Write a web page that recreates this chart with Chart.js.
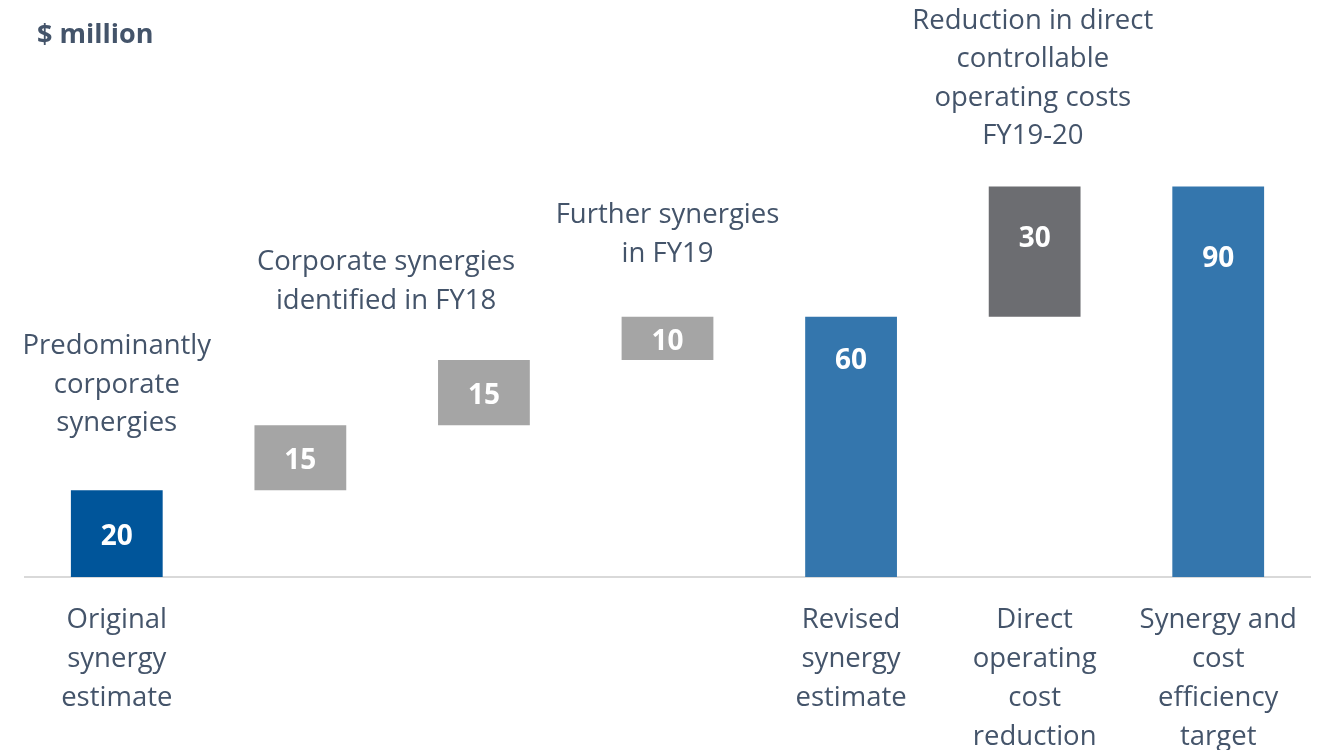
<!DOCTYPE html>
<html>
<head>
<meta charset="utf-8">
<script src="https://cdn.jsdelivr.net/npm/chart.js@4"></script>
<style>
  html, body { margin: 0; padding: 0; background: #fff; }
  #wrap { width: 1324px; height: 750px; }
</style>
</head>
<body>
<div id="wrap"><canvas id="synergyChart"></canvas></div>
<script>
// waterfall values ($ million)
var categories = [
  ['Original', 'synergy', 'estimate'],
  '',
  '',
  '',
  ['Revised', 'synergy', 'estimate'],
  ['Direct', 'operating', 'cost', 'reduction'],
  ['Synergy and', 'cost', 'efficiency', 'target']
];
var values = [20, 15, 15, 10, 60, 30, 90];
var isTotal = [true, false, false, false, true, false, true];
var barColors = ['#00559A', '#A5A5A5', '#A5A5A5', '#A5A5A5', '#3476AD', '#6C6D71', '#3476AD'];

// notes written above the bars
var notes = [
  { lines: ['Predominantly', 'corporate', 'synergies'], bar: 0, at: 0 },
  { lines: ['Corporate synergies', 'identified in FY18'], bar: 2, at: 1.467 },
  { lines: ['Further synergies', 'in FY19'], bar: 3, at: 3 },
  { lines: ['Reduction in direct', 'controllable', 'operating costs', 'FY19-20'], bar: 5, at: 4.99 }
];
var noteGap = [67, 59, 63, 50];
var labelDepth = [47, 36, 36, 25, 44, 52, 72];

var textColor = '#44546A';

// build floating bars from running total
var ranges = [];
var running = 0;
for (var i = 0; i < values.length; i++) {
  if (isTotal[i]) {
    ranges.push([0, values[i]]);
    running = values[i];
  } else {
    ranges.push([running, running + values[i]]);
    running += values[i];
  }
}

var textPlugin = {
  id: 'textPlugin',
  afterDatasetsDraw: function(chart) {
    var ctx = chart.ctx;
    var x = chart.scales.x;
    var y = chart.scales.y;
    ctx.save();

    // values inside bars
    ctx.fillStyle = '#fff';
    ctx.font = 'bold 28px "Open Sans"';
    ctx.textAlign = 'center';
    ctx.textBaseline = 'middle';
    ranges.forEach(function(r, i) {
      var top = y.getPixelForValue(r[1]);
      ctx.fillText(String(values[i]), x.getPixelForValue(i), top + labelDepth[i]);
    });

    // notes above bars
    ctx.fillStyle = textColor;
    ctx.font = '27.5px "Open Sans"';
    notes.forEach(function(n, k) {
      var top = y.getPixelForValue(ranges[n.bar][1]);
      var cx = x.getPixelForValue(n.at);
      var last = top - noteGap[k];
      for (var j = 0; j < n.lines.length; j++) {
        ctx.fillText(n.lines[j], cx, last - (n.lines.length - 1 - j) * 38.5);
      }
    });

    // unit label
    ctx.textAlign = 'left';
    ctx.font = 'bold 27px "Open Sans"';
    ctx.fillText('$ million', 37, 35);
    ctx.restore();
  }
};

var ctx = document.getElementById('synergyChart').getContext('2d');
var chart = new Chart(ctx, {
  type: 'bar',
  data: {
    labels: categories,
    datasets: [{
      data: ranges,
      backgroundColor: barColors,
      borderWidth: 0,
      barPercentage: 0.5,
      categoryPercentage: 1.0
    }]
  },
  options: {
    responsive: true,
    maintainAspectRatio: false,
    animation: false,
    layout: { padding: { left: 25, right: 14, top: 0, bottom: 0 } },
    plugins: {
      legend: { display: false },
      tooltip: { enabled: false }
    },
    scales: {
      x: {
        grid: { display: false, drawTicks: false },
        border: { display: true, color: '#D9D9D9', width: 2 },
        ticks: {
          color: textColor,
          font: { family: 'Open Sans', size: 27.5, lineHeight: '39px' },
          padding: 24,
          maxRotation: 0,
          autoSkip: false
        },
        afterFit: function(scale) {
          scale.height = 173;
        }
      },
      y: {
        display: false,
        min: 0,
        max: 133
      }
    }
  },
  plugins: [textPlugin]
});
</script>
</body>
</html>
